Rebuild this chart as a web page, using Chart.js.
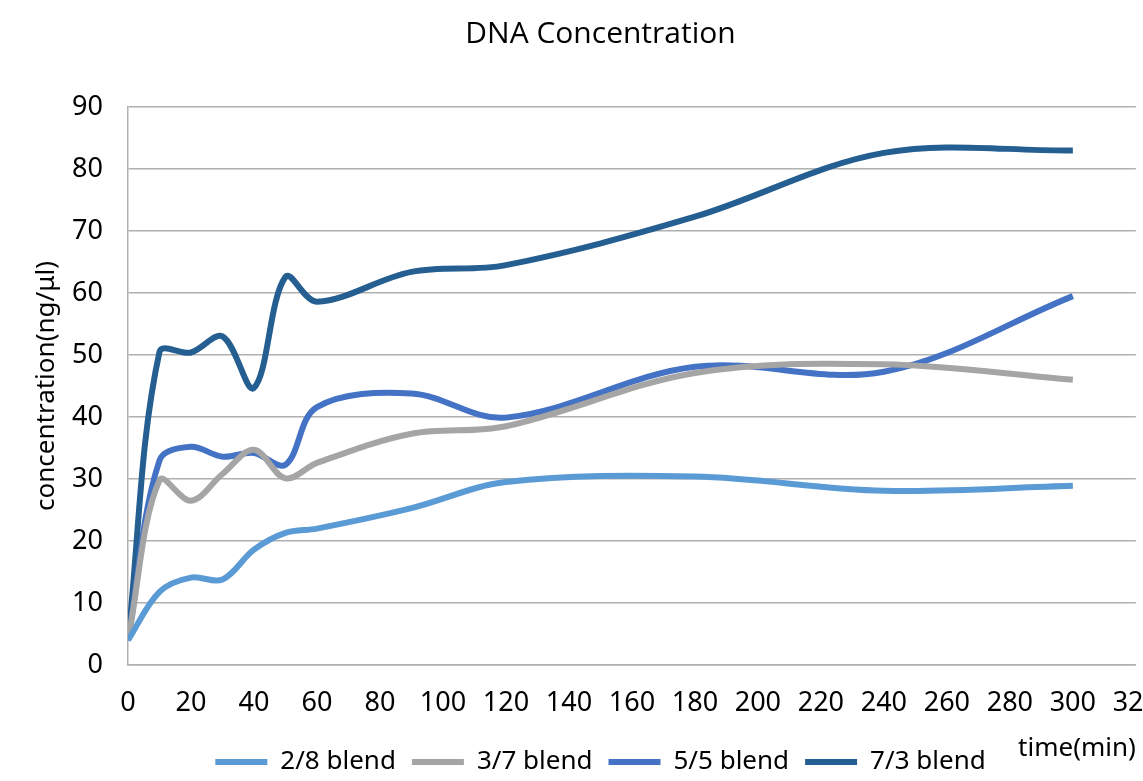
<!DOCTYPE html>
<html>
<head>
<meta charset="utf-8">
<script src="https://cdn.jsdelivr.net/npm/chart.js@4"></script>
<style>
    body { margin: 0; background: #fff; }
    #wrap { width: 1143px; height: 781px; overflow: hidden; position: relative; }
</style>
</head>
<body>
<div id="wrap">
    <canvas id="dnaChart" width="1181" height="785"></canvas>
</div>
<script>
// sampling times (min)
const times = [0, 10, 20, 30, 40, 50, 60, 90, 120, 180, 240, 300];

// concentration (ng/ul) per blend
const blend28 = [4, 11.8, 14.1, 13.8, 18.6, 21.3, 22, 25.3, 29.5, 30.4, 28.1, 28.9];
const blend37 = [4, 29.8, 26.5, 30.8, 34.7, 30.1, 32.6, 37.3, 38.5, 47.1, 48.5, 46];
const blend55 = [4, 33, 35.2, 33.6, 34.2, 32.3, 41.6, 43.8, 39.9, 48.1, 47.3, 59.5];
const blend73 = [4, 50.5, 50.4, 53, 44.7, 62.6, 58.6, 63.4, 64.5, 72.3, 82.6, 83];

const seriesNames = ['2/8 blend', '3/7 blend', '5/5 blend', '7/3 blend'];
const seriesColors = ['#5B9BD5', '#A5A5A5', '#4472C4', '#255E91'];

const xTicks = { min: 0, max: 320, step: 20 };
const yTicks = { min: 0, max: 90, step: 10 };

function toPoints(values) {
    return values.map((v, i) => ({ x: times[i], y: v }));
}

const allSeries = [blend28, blend37, blend55, blend73];
const datasets = allSeries.map((vals, i) => ({
    label: seriesNames[i],
    data: toPoints(vals),
    borderColor: seriesColors[i],
    backgroundColor: seriesColors[i],
    borderWidth: 6,
    pointRadius: 0,
    tension: 0.35,
    fill: false
}));

const gridGray = '#b0b0b0';

var ctx = document.getElementById('dnaChart').getContext('2d');
var myChart = new Chart(ctx, {
    type: 'line',
    data: { datasets: datasets },
    options: {
        responsive: false,
        animation: false,
        layout: { padding: { left: 52, right: 32, top: 0, bottom: 0 } },
        plugins: {
            title: {
                display: true,
                text: 'DNA Concentration',
                color: '#000',
                font: { family: 'Open Sans', size: 30, weight: 'normal' },
                padding: { top: 16, bottom: 55 }
            },
            legend: {
                position: 'bottom',
                labels: {
                    usePointStyle: true,
                    pointStyle: 'line',
                    pointStyleWidth: 52,
                    color: '#000',
                    font: { family: 'Noto Sans', size: 26 },
                    padding: 16
                }
            },
            tooltip: { enabled: false }
        },
        scales: {
            x: {
                type: 'linear',
                min: xTicks.min,
                max: xTicks.max,
                ticks: {
                    stepSize: xTicks.step,
                    color: '#000',
                    font: { family: 'Noto Sans', size: 27 },
                    padding: 22,
                    maxRotation: 0
                },
                grid: { display: false, drawTicks: false },
                border: { display: true, color: gridGray, width: 1.5 },
                title: {
                    display: true,
                    text: 'time(min)',
                    align: 'end',
                    color: '#000',
                    font: { family: 'Noto Sans', size: 26 },
                    padding: { top: 0, bottom: -31 }
                },
                afterFit: function (scale) { scale.height = 68; }
            },
            y: {
                min: yTicks.min,
                max: yTicks.max,
                ticks: {
                    stepSize: yTicks.step,
                    color: '#000',
                    font: { family: 'Noto Sans', size: 27 },
                    padding: 25
                },
                grid: { color: gridGray, lineWidth: 1.5, drawTicks: false },
                border: { display: true, color: gridGray, width: 1.5 },
                title: {
                    display: true,
                    text: 'concentration(ng/μl)',
                    color: '#000',
                    font: { family: 'Noto Sans', size: 26 },
                    padding: { top: -21, bottom: 0 }
                },
                afterFit: function (scale) { scale.width = 76; }
            }
        }
    }
});
</script>
</body>
</html>
